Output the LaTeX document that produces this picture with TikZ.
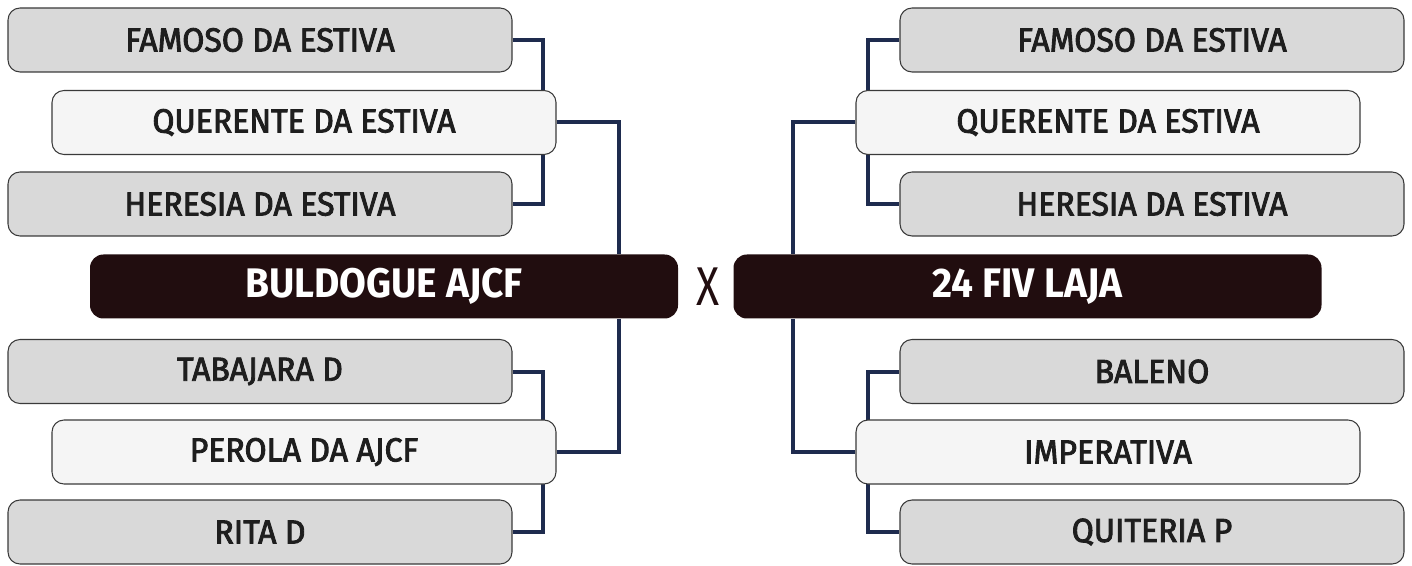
\documentclass[tikz,border=0pt]{standalone}
\usepackage{fontspec}
\setmainfont[FakeStretch=0.96]{Fira Sans}
\newfontfamily\medfam[FakeStretch=0.96,FakeBold=2.6]{Fira Sans}
\newfontfamily\boldfam[FakeStretch=0.94]{Fira Sans}
\newfontfamily\xfam[FakeStretch=0.78]{Fira Sans}
\definecolor{grayfill}{HTML}{D9D9D9}
\definecolor{lightfill}{HTML}{F5F5F5}
\definecolor{darkfill}{HTML}{210D0F}
\definecolor{edge}{HTML}{3A3A3A}
\definecolor{navy}{HTML}{1E2B4E}
\definecolor{txt}{HTML}{1E1E1E}
\begin{document}
\begin{tikzpicture}[x=0.75pt,y=-0.75pt,
  team/.style={draw=edge,line width=0.8pt,rounded corners=9pt,minimum height=48pt,
    text=txt,font=\medfam\fontsize{25}{27}\selectfont,inner sep=0pt},
  side/.style={team,fill=grayfill,minimum width=378pt},
  mid/.style={team,fill=lightfill,minimum width=378pt},
  final/.style={draw=none,fill=darkfill,rounded corners=10pt,minimum height=48pt,minimum width=441pt,
    text=white,font=\boldfam\bfseries\fontsize{31}{33}\selectfont,inner sep=0pt},
  link/.style={draw=navy,line width=3pt}]
\useasboundingbox (0,0) rectangle (1412,566);
% left
\node[side] (l1) at (260,40) {FAMOSO DA ESTIVA};
\node[side] (l3) at (260,204) {HERESIA DA ESTIVA};
\node[side] (l4) at (260,371.5) {TABAJARA D};
\node[side] (l6) at (260,532) {RITA D};
\node[final] (lf) at (384,286.5) {BULDOGUE AJCF};
% right
\node[side] (r1) at (1152,40) {FAMOSO DA ESTIVA};
\node[side] (r3) at (1152,204) {HERESIA DA ESTIVA};
\node[side] (r4) at (1152,371.5) {BALENO};
\node[side] (r6) at (1152,532) {QUITERIA P};
\node[final] (rf) at (1027.5,286.5) {24 FIV LAJA};
\node[text=darkfill,font=\xfam\fontsize{41}{43}\selectfont,inner sep=0pt] (vs) at (708,287) {X};
% connectors (behind mid boxes)
\coordinate (la) at (543,0);
\coordinate (lb) at (619,0);
\coordinate (ra) at (868,0);
\coordinate (rb) at (793,0);
\draw[link] (l1.east) -| (la |- 0,122) (la |- 0,122) |- (l3.east);
\draw[link] (l4.east) -| (la |- 0,452) (la |- 0,452) |- (l6.east);
\draw[link] (lb |- 0,124) -- (lb |- lf.north) (lb |- lf.south) -- (lb |- 0,452);
\draw[link] (r1.west) -| (ra |- 0,122) (ra |- 0,122) |- (r3.west);
\draw[link] (r4.west) -| (ra |- 0,452) (ra |- 0,452) |- (r6.west);
\draw[link] (rb |- 0,124) -- (rb |- rf.north) (rb |- rf.south) -- (rb |- 0,452);
\node[mid] (l2) at (304,122.5) {QUERENTE DA ESTIVA};
\node[mid] (l5) at (304,452) {PEROLA DA AJCF};
\node[mid] (r2) at (1108,122.5) {QUERENTE DA ESTIVA};
\node[mid] (r5) at (1108,452) {IMPERATIVA};
\draw[link] (l2.east) -| (lb |- lf.north);
\draw[link] (l5.east) -| (lb |- lf.south);
\draw[link] (r2.west) -| (rb |- rf.north);
\draw[link] (r5.west) -| (rb |- rf.south);
\end{tikzpicture}
\end{document}
